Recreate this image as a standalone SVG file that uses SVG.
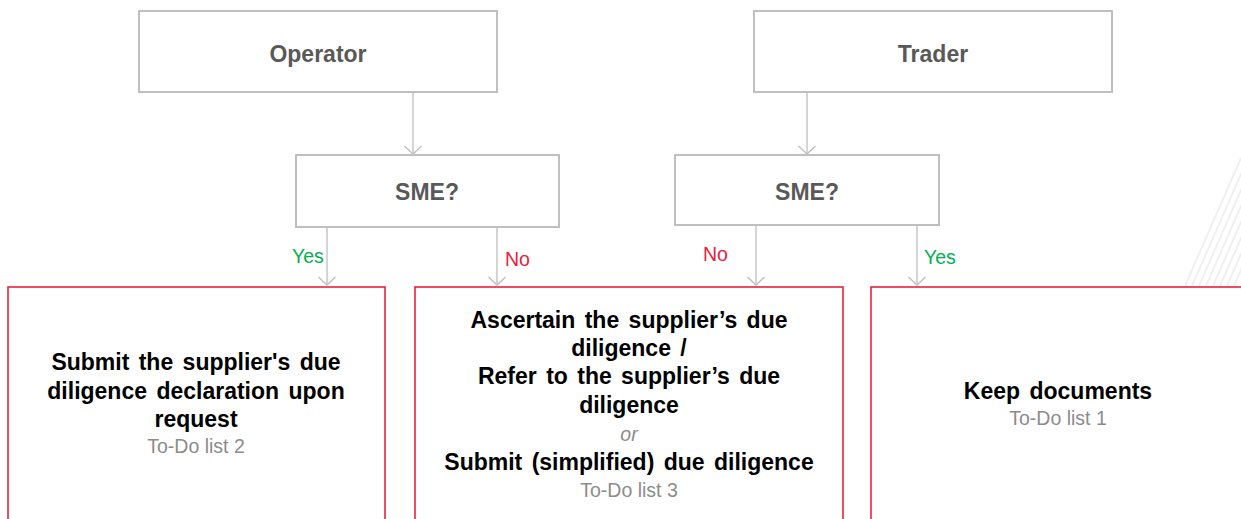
<svg xmlns="http://www.w3.org/2000/svg" width="1241" height="519" viewBox="0 0 1241 519">
  <defs>
    <marker id="vhead" markerWidth="10" markerHeight="18" refX="9" refY="9" orient="auto" markerUnits="userSpaceOnUse" viewBox="0 0 10 18">
      <path d="M1 0.5 L9 9 L1 17.5" fill="none" stroke="#bfbfbf" stroke-width="1.3"/>
    </marker>
    <clipPath id="edge"><rect x="0" y="0" width="1241" height="286"/></clipPath>
  </defs>
  <style>
    .gbox { fill: #ffffff; stroke: #bfbfbf; stroke-width: 2; }
    .rbox { fill: #ffffff; stroke: #e8223c; stroke-width: 1.6; }
    .head { font-family: "Liberation Sans", Arial, sans-serif; font-weight: bold; font-size: 23px; fill: #595959; text-anchor: middle; }
    .body { font-family: "Liberation Sans", Arial, sans-serif; font-weight: bold; font-size: 23px; fill: #000000; text-anchor: middle; word-spacing: 3px; }
    .todo { font-family: "Liberation Sans", Arial, sans-serif; font-size: 19.5px; fill: #8c8c8c; text-anchor: middle; }
    .or { font-family: "Liberation Sans", Arial, sans-serif; font-style: italic; font-size: 19.5px; fill: #8c8c8c; text-anchor: middle; }
    .yes { font-family: "Liberation Sans", Arial, sans-serif; font-size: 19.5px; fill: #00b050; }
    .no { font-family: "Liberation Sans", Arial, sans-serif; font-size: 19.5px; fill: #e8223c; }
    .link { stroke: #bfbfbf; stroke-width: 1.3; fill: none; marker-end: url(#vhead); }
    .hatch { stroke: #f0f0f0; stroke-width: 2; }
  </style>

  <rect width="1241" height="519" fill="#ffffff"/>

  <!-- faint diagonal hatching at the right edge -->
  <g id="hatching" clip-path="url(#edge)">
    <line class="hatch" x1="1185" y1="286" x2="1241" y2="158"/>
    <line class="hatch" x1="1192" y1="286" x2="1248" y2="158"/>
    <line class="hatch" x1="1199" y1="286" x2="1255" y2="158"/>
    <line class="hatch" x1="1206" y1="286" x2="1262" y2="158"/>
    <line class="hatch" x1="1213" y1="286" x2="1269" y2="158"/>
    <line class="hatch" x1="1220" y1="286" x2="1276" y2="158"/>
    <line class="hatch" x1="1227" y1="286" x2="1283" y2="158"/>
    <line class="hatch" x1="1234" y1="286" x2="1290" y2="158"/>
  </g>

  <!-- connectors -->
  <g id="connectors">
    <line class="link" x1="413" y1="93" x2="413" y2="154"/>
    <line class="link" x1="807" y1="93" x2="807" y2="154"/>
    <line class="link" x1="327" y1="227" x2="327" y2="285"/>
    <line class="link" x1="497" y1="227" x2="497" y2="285"/>
    <line class="link" x1="756" y1="225" x2="756" y2="285"/>
    <line class="link" x1="917" y1="225" x2="917" y2="285"/>
    <text class="yes" x="292" y="263">Yes</text>
    <text class="no" x="505" y="266">No</text>
    <text class="no" x="703" y="261">No</text>
    <text class="yes" x="924" y="264">Yes</text>
  </g>

  <g id="operator">
    <rect class="gbox" x="139" y="11" width="358" height="81"/>
    <text class="head" x="318" y="62">Operator</text>
  </g>

  <g id="trader">
    <rect class="gbox" x="754" y="11" width="358" height="81"/>
    <text class="head" x="933" y="62">Trader</text>
  </g>

  <g id="sme-operator">
    <rect class="gbox" x="296" y="155" width="263" height="72"/>
    <text class="head" x="427" y="200">SME?</text>
  </g>

  <g id="sme-trader">
    <rect class="gbox" x="675" y="155" width="264" height="70"/>
    <text class="head" x="807" y="200">SME?</text>
  </g>

  <g id="todo-2">
    <rect class="rbox" x="8" y="287" width="377" height="240"/>
    <text class="body" x="196" y="370">Submit the supplier's due</text>
    <text class="body" x="196" y="399">diligence declaration upon</text>
    <text class="body" x="196" y="427">request</text>
    <text class="todo" x="196" y="453">To-Do list 2</text>
  </g>

  <g id="todo-3">
    <rect class="rbox" x="415" y="287" width="428" height="240"/>
    <text class="body" x="629" y="328">Ascertain the supplier’s due</text>
    <text class="body" x="629" y="356">diligence /</text>
    <text class="body" x="629" y="384">Refer to the supplier’s due</text>
    <text class="body" x="629" y="413">diligence</text>
    <text class="or" x="629" y="441">or</text>
    <text class="body" x="629" y="470">Submit (simplified) due diligence</text>
    <text class="todo" x="629" y="497">To-Do list 3</text>
  </g>

  <g id="todo-1">
    <rect class="rbox" x="871" y="287" width="380" height="240"/>
    <text class="body" x="1058" y="399">Keep documents</text>
    <text class="todo" x="1058" y="425">To-Do list 1</text>
  </g>
</svg>
